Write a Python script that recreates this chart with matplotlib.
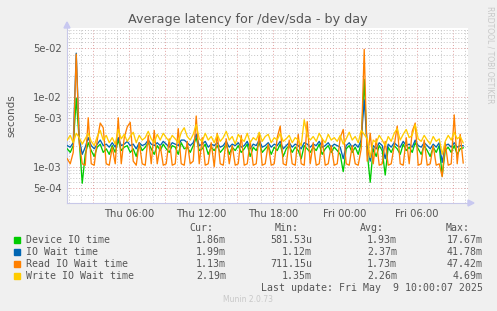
import numpy as np
import matplotlib
matplotlib.use("Agg")
import matplotlib.pyplot as plt
from matplotlib.patches import Rectangle

# latency values in milliseconds, one sample every 15 minutes (Thu ~00:50 -> Fri ~10:00)
device_ms = [1.8, 1.6, 2.0, 9.5, 2.3, 0.58, 1.5, 2.2, 1.7, 1.4, 1.9, 2.1, 1.6, 1.8, 1.5, 2.0, 1.6, 2.4, 1.7, 1.9,
             2.0, 1.6, 1.8, 1.4, 2.1, 1.7, 1.9, 2.2, 1.8, 1.5, 2.0, 1.7, 2.1, 1.8, 1.6, 2.0, 1.9, 1.5, 2.2, 1.8,
             1.9, 1.6, 2.0, 2.6, 1.7, 1.8, 2.1, 1.5, 1.9, 1.7, 2.0, 1.6, 1.8, 2.1, 1.5, 1.9, 1.7, 2.0, 1.6, 1.8,
             2.1, 1.4, 1.9, 1.7, 2.2, 1.6, 1.8, 2.0, 1.5, 1.9, 1.7, 2.1, 1.4, 1.8, 2.0, 1.6, 1.9, 1.7, 1.3, 2.0,
             1.8, 1.6, 1.9, 1.7, 2.1, 1.5, 1.8, 2.0, 1.6, 1.9, 1.7, 1.5, 0.85, 1.8, 2.0, 1.6, 1.9, 1.5, 2.2, 17.67,
             1.6, 0.6, 1.8, 1.4, 2.0, 1.7, 0.76, 1.9, 1.6, 2.0, 1.8, 1.5, 2.1, 1.7, 1.9, 1.6, 2.2, 1.8, 1.5, 2.0,
             1.7, 1.4, 1.9, 1.6, 2.0, 0.74, 1.7, 1.9, 1.6, 2.0, 1.5, 1.8, 1.86]
iowait_ms = [2.0, 1.9, 2.2, 41.78, 2.5, 1.5, 1.9, 2.6, 2.0, 1.8, 2.1, 2.4, 2.0, 2.1, 1.9, 2.2, 1.9, 2.6, 2.0, 2.1,
             2.3, 2.0, 2.1, 1.8, 2.2, 2.0, 2.1, 2.4, 2.1, 2.0, 2.2, 2.0, 2.3, 2.1, 1.9, 2.2, 2.1, 2.0, 2.4, 2.4,
             2.2, 2.0, 2.2, 2.9, 2.0, 2.1, 2.3, 1.9, 2.1, 2.0, 2.2, 1.9, 2.0, 2.3, 1.9, 2.1, 2.0, 2.2, 1.9, 2.0,
             2.3, 1.8, 2.1, 2.0, 2.4, 1.9, 2.0, 2.2, 1.9, 2.1, 2.0, 2.3, 1.8, 2.0, 2.2, 1.9, 2.1, 2.0, 1.8, 2.2,
             2.1, 1.9, 2.1, 2.0, 2.3, 1.9, 2.0, 2.2, 1.9, 2.1, 2.0, 1.9, 1.3, 2.0, 2.2, 1.9, 2.1, 1.9, 2.4, 9.0,
             2.0, 1.2, 2.0, 1.8, 2.2, 2.0, 1.3, 2.1, 1.9, 2.2, 2.0, 1.9, 2.3, 2.0, 2.1, 1.9, 2.4, 2.0, 1.9, 2.2,
             2.0, 1.8, 2.1, 1.9, 2.2, 1.15, 2.0, 2.1, 1.9, 2.2, 1.9, 2.0, 1.99]
read_ms = [1.3, 1.1, 1.6, 40.5, 2.2, 1.1, 1.05, 5.0, 1.1, 1.05, 2.4, 4.2, 3.6, 1.1, 1.05, 1.9, 1.1, 5.0, 1.1, 2.6,
           3.7, 4.3, 1.2, 1.05, 2.2, 1.1, 1.05, 2.8, 1.1, 3.3, 1.1, 2.0, 1.05, 1.1, 2.5, 1.05, 1.1, 3.5, 1.1, 1.05,
           2.3, 1.1, 1.2, 5.3, 1.1, 2.6, 1.05, 1.1, 2.2, 1.0, 3.0, 1.1, 1.05, 2.5, 1.1, 2.0, 1.05, 1.1, 2.8, 1.05,
           1.1, 2.3, 1.05, 1.1, 3.0, 1.05, 1.1, 2.1, 1.05, 1.1, 2.6, 3.8, 1.1, 1.05, 2.4, 1.1, 1.05, 2.9, 1.1, 1.05,
           4.4, 1.1, 2.2, 1.05, 1.1, 2.5, 1.05, 1.1, 2.0, 1.05, 1.1, 2.6, 3.4, 1.1, 1.05, 2.0, 1.1, 1.05, 1.8, 47.42,
           1.2, 3.0, 1.1, 2.5, 1.05, 1.1, 2.3, 1.05, 1.1, 2.0, 3.8, 1.1, 1.05, 2.6, 1.1, 3.2, 4.2, 1.05, 1.1, 2.4,
           1.05, 1.1, 2.0, 1.05, 1.1, 0.72, 2.2, 1.05, 1.1, 5.5, 1.1, 2.9, 1.13]
write_ms = [2.4, 2.8, 2.2, 3.0, 2.6, 2.1, 2.5, 3.0, 2.3, 2.0, 2.7, 3.3, 2.4, 2.8, 2.2, 2.6, 2.1, 3.4, 2.5, 2.9,
            2.3, 2.7, 3.1, 2.2, 2.8, 2.4, 2.6, 3.2, 2.5, 2.2, 2.9, 2.4, 3.0, 2.6, 2.3, 2.8, 2.5, 2.2, 3.1, 3.6,
            2.7, 2.4, 2.9, 4.0, 2.5, 2.3, 3.0, 2.4, 2.7, 2.2, 2.9, 2.3, 2.6, 3.2, 2.4, 2.7, 2.1, 2.9, 2.5, 2.3,
            3.0, 2.2, 2.6, 2.4, 3.1, 2.3, 2.7, 2.9, 2.2, 2.6, 2.4, 3.0, 2.3, 2.5, 2.8, 2.2, 2.6, 2.4, 2.0, 4.69,
            2.8, 2.4, 2.7, 2.3, 3.0, 2.5, 2.2, 2.9, 2.4, 2.6, 2.3, 2.8, 2.1, 2.5, 3.1, 2.4, 2.7, 2.2, 3.3, 2.9,
            2.5, 1.35, 2.4, 2.2, 2.8, 2.4, 2.0, 2.7, 2.3, 3.0, 3.5, 2.4, 2.9, 3.4, 2.6, 2.8, 4.0, 2.5, 2.3, 2.8,
            2.4, 2.1, 2.7, 2.3, 2.5, 1.5, 2.3, 2.8, 2.4, 3.1, 2.5, 2.7, 2.19]

series_names = ["Device IO time", "IO Wait time", "Read IO Wait time", "Write IO Wait time"]
series_colors = ["#00CC00", "#0066B3", "#FF8000", "#FFCC00"]
cur_vals = ["1.86m", "1.99m", "1.13m", "2.19m"]
min_vals = ["581.53u", "1.12m", "711.15u", "1.35m"]
avg_vals = ["1.93m", "2.37m", "1.73m", "2.26m"]
max_vals = ["17.67m", "41.78m", "47.42m", "4.69m"]

tick_hours = [6, 12, 18, 24, 30]
tick_labels = ["Thu 06:00", "Thu 12:00", "Thu 18:00", "Fri 00:00", "Fri 06:00"]
ytick_vals = [5e-4, 1e-3, 5e-3, 1e-2, 5e-2]
ytick_labels = ["5e-04", "1e-03", "5e-03", "1e-02", "5e-02"]

# hours since Thu 00:00
hours = 0.85 + 0.25 * np.arange(len(read_ms))

W, H = 497, 311
fig = plt.figure(figsize=(W / 100, H / 100), dpi=100, facecolor="#F0F0F0")
ax = fig.add_axes([67 / W, 1 - 203 / H, (468 - 67) / W, (203 - 28) / H])
ax.set_facecolor("white")
ax.set_yscale("log")
x0, x1 = 0.83, 34.25
y0, y1 = 3.03e-4, 0.0957
ax.set_xlim(x0, x1)
ax.set_ylim(y0, y1)

# grid: grey dotted minor, red dotted major
minor_c = "#c4c4c4"
major_c = "#e0a0a0"
dot = (0, (1, 2))
for h in np.arange(1, 35):
    c = major_c if h % 3 == 0 else minor_c
    ax.axvline(h, color=c, lw=0.7, ls=dot, zorder=1)
for dec in [1e-4, 1e-3, 1e-2]:
    for m in range(1, 10):
        v = dec * m
        if y0 < v < y1:
            c = major_c if m in (1, 5) else minor_c
            ax.axhline(v, color=c, lw=0.7, ls=dot, zorder=1)

for vals, col in zip([device_ms, iowait_ms, read_ms, write_ms], series_colors):
    ax.plot(hours, np.array(vals) / 1000, color=col, lw=0.95, zorder=3)

ax.set_xticks(tick_hours)
ax.set_xticklabels(tick_labels)
ax.set_yticks(ytick_vals)
ax.set_yticklabels(ytick_labels)
ax.yaxis.set_minor_locator(plt.NullLocator())
ax.tick_params(length=0, labelsize=7.2, colors="#555555", pad=4)
for s in ["top", "right"]:
    ax.spines[s].set_visible(False)
for s in ["left", "bottom"]:
    ax.spines[s].set_color("#c8c8e8")
    ax.spines[s].set_linewidth(0.8)
ax.set_ylabel("seconds", fontsize=7.5, color="#555555")
ax.yaxis.set_label_coords(-(67 - 16) / 401, 0.5)

# small axis arrows
fig.patches.append(plt.Polygon([[64 / W, 1 - 28 / H], [70 / W, 1 - 28 / H], [67 / W, 1 - 22 / H]],
                               closed=True, color="#c8c8f0", transform=fig.transFigure))
fig.patches.append(plt.Polygon([[468 / W, 1 - 200 / H], [468 / W, 1 - 206 / H], [474 / W, 1 - 203 / H]],
                               closed=True, color="#c8c8f0", transform=fig.transFigure))

fig.text(248 / W, 1 - 19 / H, "Average latency for /dev/sda - by day", ha="center", va="center",
         fontsize=9.2, color="#555555")
fig.text(490 / W, 1 - 55 / H, "RRDTOOL / TOBI OETIKER", rotation=270, ha="center", va="center",
         fontsize=5.5, color="#c8c8c8")

# legend table
mono = dict(family="DejaVu Sans Mono", fontsize=7.1, color="#555555", va="center")
hy = 1 - 228 / H
fig.text(213 / W, hy, "Cur:", ha="right", **mono)
fig.text(299 / W, hy, "Min:", ha="right", **mono)
fig.text(384 / W, hy, "Avg:", ha="right", **mono)
fig.text(470 / W, hy, "Max:", ha="right", **mono)
for i, name in enumerate(series_names):
    yp = 240 + 12 * i
    yf = 1 - yp / H
    fig.patches.append(Rectangle((14 / W, 1 - (yp + 3) / H), 6 / W, 6 / H,
                                 color=series_colors[i], transform=fig.transFigure))
    fig.text(26 / W, yf, name, ha="left", **mono)
    fig.text(226 / W, yf, cur_vals[i], ha="right", **mono)
    fig.text(312 / W, yf, min_vals[i], ha="right", **mono)
    fig.text(397 / W, yf, avg_vals[i], ha="right", **mono)
    fig.text(483 / W, yf, max_vals[i], ha="right", **mono)
fig.text(483 / W, 1 - 288 / H, "Last update: Fri May  9 10:00:07 2025", ha="right", **mono)
fig.text(248 / W, 1 - 300 / H, "Munin 2.0.73", ha="center", va="center", fontsize=5.5, color="#c8c8c8")

fig.savefig("out.png", dpi=100, facecolor=fig.get_facecolor())
